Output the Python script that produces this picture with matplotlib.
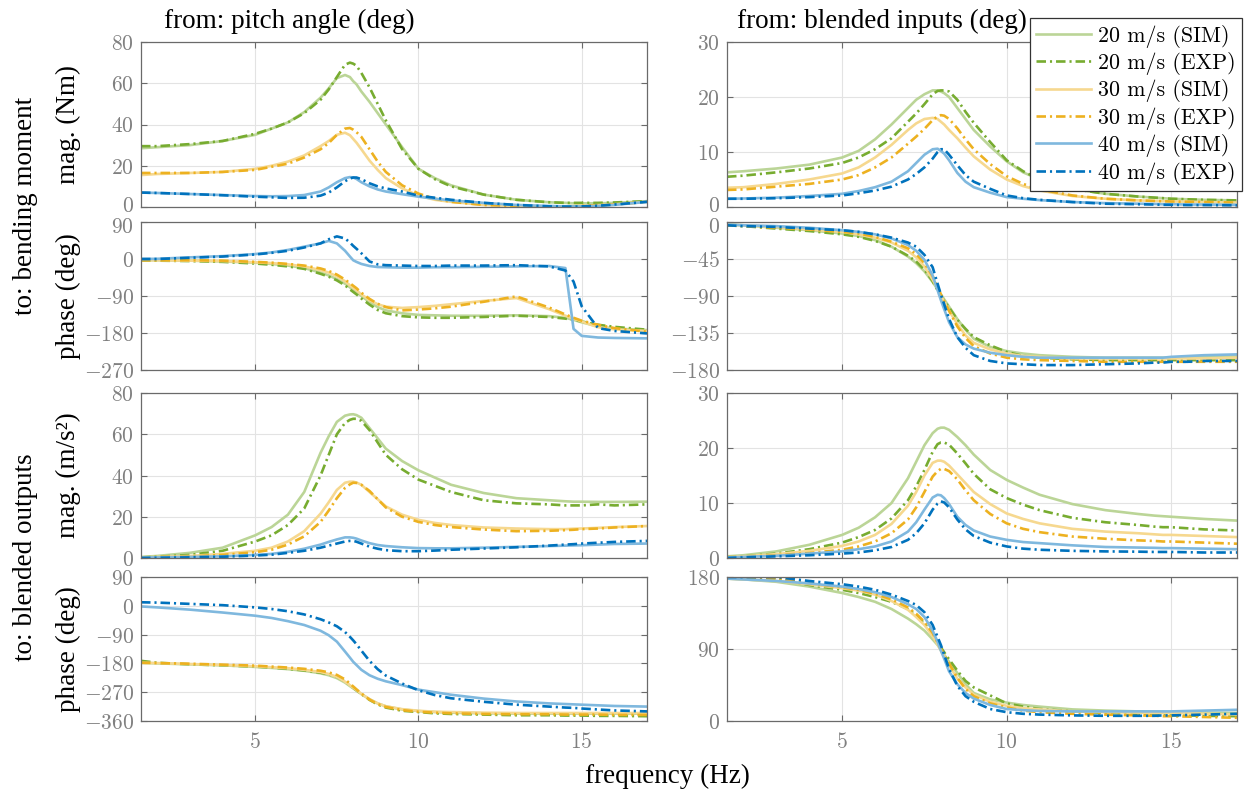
import matplotlib
matplotlib.use('Agg')
import matplotlib.pyplot as plt
from matplotlib.font_manager import FontProperties
from matplotlib.transforms import ScaledTranslation

plt.rcParams['mathtext.fontset'] = 'cm'

# ---------------- data ----------------
freq = [1.5, 2, 3, 4, 5, 5.5, 6, 6.5, 7, 7.25, 7.5, 7.75, 7.9, 8, 8.1, 8.25, 8.5, 8.75, 9, 9.5,
        10, 10.5, 11, 12, 13, 14, 14.5, 14.75, 15, 15.5, 16, 17]

series_labels = ['20 m/s (SIM)', '20 m/s (EXP)', '30 m/s (SIM)', '30 m/s (EXP)',
                 '40 m/s (SIM)', '40 m/s (EXP)']
col_titles = ['from: pitch angle (deg)', 'from: blended inputs (deg)']
row_titles = ['to: bending moment', 'to: blended outputs']
sub_labels = ['mag. (Nm)', 'phase (deg)', 'mag. (m/s²)', 'phase (deg)']
x_ticks = [5, 10, 15]

# pitch angle -> bending moment, magnitude
pb_mag_20_sim = [28.5, 29, 30, 32, 35, 38, 41, 46, 53, 57.5, 62.5, 64, 63, 61, 59.5, 56, 51, 45.5, 40, 29, 18.5, 14, 10.5, 6, 3.5, 2.3, 2, 1.8, 1.8, 1.8, 2, 2.8]
pb_mag_20_exp = [29.5, 29.5, 30.5, 32, 35.5, 38, 41, 45.5, 52, 57, 63, 69, 70, 69.5, 68.5, 65, 58, 50, 42, 28, 18.5, 13.5, 10, 6, 3.5, 2.3, 2, 2, 2, 2, 2.2, 2.8]
pb_mag_30_sim = [15.5, 16, 16.5, 17, 18.5, 20, 22, 25, 29.5, 32, 35, 36, 34.8, 33, 31.2, 28, 22.5, 18, 14, 9, 5.5, 3.5, 2.5, 1, 0.5, 0.3, 0.3, 0.4, 0.6, 0.9, 1.3, 2.5]
pb_mag_30_exp = [16.5, 16.5, 16.5, 17, 18, 19.5, 21, 24, 28, 31, 35, 38, 38.3, 37.5, 36.3, 34, 28, 22, 17, 10.5, 6.5, 4, 2.5, 1, 0.5, 0.3, 0.3, 0.3, 0.5, 0.8, 1.2, 2.5]
pb_mag_40_sim = [7, 6.8, 6.3, 5.8, 5.3, 5.2, 5.3, 5.8, 7.5, 9.5, 12, 14, 14.5, 14.3, 13.6, 12, 10, 8.5, 7.5, 6.2, 5, 4, 3.2, 2, 1, 0.5, 0.3, 0.3, 0.3, 0.5, 1, 2.5]
pb_mag_40_exp = [7, 6.8, 6.3, 5.7, 5, 4.7, 4.4, 4.5, 5.5, 7, 9.5, 12.5, 13.8, 14.3, 14.3, 13.5, 11.5, 10, 9, 7.5, 5.5, 4.5, 3.5, 2, 1, 0.3, 0.2, 0.2, 0.3, 0.6, 1.2, 2.5]

# pitch angle -> bending moment, phase
pb_ph_20_sim = [-3, -3, -4, -6, -9, -12, -16, -22, -33, -40, -49, -60, -69, -75, -81, -90, -105, -117, -125, -132, -136, -137, -138, -138, -137, -139, -143, -148, -154, -164, -169, -173]
pb_ph_20_exp = [-4, -4, -5, -7, -11, -14, -18, -24, -36, -43, -52, -64, -74, -80, -86, -96, -111, -124, -132, -139, -142, -143, -143, -141, -138, -141, -145, -148, -152, -160, -165, -172]
pb_ph_30_sim = [-3, -3, -4, -5, -8, -10, -13, -18, -27, -33, -42, -54, -64, -70, -76, -86, -100, -110, -116, -119, -117, -114, -110, -102, -95, -122, -138, -145, -152, -166, -171, -175]
pb_ph_30_exp = [-3, -3, -3, -4, -7, -9, -12, -16, -23, -29, -38, -50, -59, -65, -71, -82, -97, -109, -117, -125, -123, -120, -116, -104, -91, -118, -135, -143, -150, -160, -168, -177]
pb_ph_40_sim = [0, 0.5, 4, 7, 12, 16, 22, 30, 38, 44, 38, 20, 6, -3, -7, -12, -17, -19.5, -20, -21, -21, -20, -20, -19, -18, -17, -22, -170, -187, -191, -192, -193]
pb_ph_40_exp = [0, 0, 3, 6, 11, 15, 20, 28, 38, 48, 55, 50, 40, 32, 25, 14, -6, -13, -15, -16, -17, -17, -16, -16, -15, -18, -28, -55, -115, -168, -175, -181]

# pitch angle -> blended outputs, magnitude
po_mag_20_sim = [0.5, 1, 2.5, 5, 11, 15, 21, 32, 51, 59, 66, 69, 69.6, 69.7, 69.3, 68, 63, 58, 53, 47, 42.5, 39, 35.5, 31.5, 29, 28, 27.5, 27.3, 27.3, 27.2, 27.2, 27.3]
po_mag_20_exp = [0.3, 0.6, 1.5, 3.5, 8, 11, 16, 24, 40, 50, 60, 65.5, 67, 67.5, 67.5, 66.5, 62, 56, 50, 43, 38, 35, 32, 28, 26.5, 26, 25.5, 25.5, 25.5, 26, 25.5, 26]
po_mag_30_sim = [0.3, 0.5, 1, 2, 3.5, 5, 8, 13, 21.5, 27, 33, 36.5, 37, 37, 36.6, 35.5, 32, 28.5, 25, 21, 18.5, 17, 16, 14.8, 14.3, 14, 14, 14.2, 14.3, 14.6, 15, 15.5]
po_mag_30_exp = [0.2, 0.4, 0.8, 1.5, 2.8, 4, 6.5, 10.5, 17.5, 23, 29, 34, 35.7, 36.5, 36.4, 35.5, 32.5, 28.5, 24.5, 20, 17.5, 16, 15, 13.8, 13, 13.2, 13.5, 13.7, 14, 14.3, 14.8, 15.5]
po_mag_40_sim = [0.2, 0.3, 0.5, 0.8, 1.5, 2, 3, 4.5, 6.5, 7.8, 9, 10, 10, 9.8, 9.4, 8.5, 7.2, 6.3, 5.8, 5.2, 4.8, 4.7, 4.7, 5, 5.4, 5.8, 6, 6.1, 6.2, 6.5, 6.8, 7]
po_mag_40_exp = [0, 0.1, 0.3, 0.6, 1.2, 1.6, 2.5, 3.5, 5, 6, 7, 8, 8.3, 8.3, 7.9, 7, 5.5, 4.5, 3.8, 3.3, 3.3, 3.6, 4, 4.6, 5.2, 6, 6.5, 6.7, 7, 7.4, 7.8, 8.3]

# pitch angle -> blended outputs, phase
po_ph_20_sim = [-178, -180, -183, -186, -191, -194, -198, -203, -211, -217, -226, -240, -251, -258, -265, -276, -292, -305, -314, -324, -329, -332, -334, -336, -337, -337, -337, -337, -337, -337, -337, -337]
po_ph_20_exp = [-172, -178, -183, -186, -190, -193, -197, -202, -209, -214, -222, -236, -248, -256, -264, -276, -294, -308, -318, -328, -332, -336, -338, -340, -342, -342, -343, -343, -343, -344, -344, -345]
po_ph_30_sim = [-178, -179, -182, -185, -189, -192, -195, -200, -207, -213, -222, -237, -248, -256, -263, -275, -292, -305, -314, -323, -328, -331, -332, -334, -335, -335, -335, -335, -335, -335, -335, -335]
po_ph_30_exp = [-178, -179, -181, -184, -187, -190, -193, -197, -203, -208, -216, -230, -243, -252, -261, -274, -293, -307, -316, -326, -331, -334, -336, -338, -339, -339, -340, -340, -340, -340, -341, -341]
po_ph_40_sim = [-2, -5, -12, -21, -31, -38, -48, -60, -78, -92, -112, -143, -162, -175, -185, -200, -217, -228, -236, -248, -262, -270, -278, -290, -299, -305, -307, -308, -309, -311, -313, -315]
po_ph_40_exp = [11, 10, 6, 2, -5, -10, -17, -27, -42, -52, -64, -82, -97, -108, -120, -140, -172, -198, -218, -243, -264, -279, -289, -300, -309, -315, -318, -319, -321, -324, -327, -330]

# blended inputs -> bending moment, magnitude
bb_mag_20_sim = [6.3, 6.5, 7, 7.7, 9, 10.2, 12.3, 15, 18, 19.5, 20.5, 21.2, 21.2, 21, 20.7, 20, 18, 16, 14, 11, 8.3, 6.3, 5, 3.3, 2.4, 1.9, 1.7, 1.6, 1.5, 1.4, 1.3, 1.2]
bb_mag_20_exp = [5.5, 5.7, 6.3, 7, 8, 9, 10.5, 12.5, 15.5, 17, 18.7, 20.5, 21.1, 21.2, 21.2, 21, 19.5, 17.3, 15.3, 11.8, 8.5, 6.5, 5, 3.3, 2.4, 1.9, 1.7, 1.6, 1.5, 1.4, 1.3, 1.2]
bb_mag_30_sim = [3.5, 3.6, 4.2, 5, 6.1, 7.2, 9, 11.3, 14, 15.2, 16, 16.2, 16, 15.5, 15, 14, 12.5, 10.8, 9.2, 6.8, 5, 3.8, 3, 2, 1.5, 1.2, 1.1, 1.05, 1, 0.95, 0.9, 0.8]
bb_mag_30_exp = [3.1, 3.2, 3.7, 4.2, 5, 5.8, 7.2, 9, 11.5, 12.8, 14.2, 15.8, 16.5, 16.7, 16.6, 16, 14.3, 12.3, 10.5, 7.8, 5.6, 4.2, 3.2, 2.1, 1.5, 1.2, 1.1, 1.05, 1, 0.95, 0.9, 0.8]
bb_mag_40_sim = [1.5, 1.55, 1.7, 2, 2.4, 2.9, 3.6, 4.6, 6.5, 8, 9.5, 10.5, 10.6, 10.2, 9.7, 8.5, 6.2, 4.6, 3.6, 2.6, 1.8, 1.5, 1.25, 0.9, 0.7, 0.6, 0.55, 0.5, 0.5, 0.45, 0.45, 0.4]
bb_mag_40_exp = [1.5, 1.5, 1.6, 1.8, 2.1, 2.5, 3, 3.7, 5, 6, 7.2, 8.8, 10, 10.5, 10.5, 9.5, 7.6, 5.8, 4.6, 3.3, 2.1, 1.6, 1.3, 0.9, 0.6, 0.5, 0.45, 0.4, 0.4, 0.35, 0.35, 0.3]

# blended inputs -> bending moment, phase
bb_ph_20_sim = [-3, -4, -7, -10, -14, -17, -22, -30, -42, -50, -60, -73, -82, -88, -94, -103, -118, -131, -142, -152, -157, -160, -162, -164, -165, -165, -165, -165, -165, -165, -164, -163]
bb_ph_20_exp = [-4, -5, -8, -11, -15, -18, -23, -30, -41, -48, -58, -72, -83, -90, -96, -104, -119, -130, -140, -150, -158, -163, -165, -167, -168, -168, -168, -168, -168, -168, -168, -168]
bb_ph_30_sim = [-3, -4, -6, -9, -12, -15, -19, -25, -35, -43, -54, -70, -81, -89, -97, -108, -124, -138, -147, -155, -160, -163, -164, -166, -166, -166, -166, -166, -166, -166, -166, -165]
bb_ph_30_exp = [-4, -5, -7, -9, -12, -14, -18, -24, -32, -39, -50, -66, -79, -88, -96, -108, -127, -141, -151, -160, -165, -167, -168, -169, -170, -170, -170, -170, -170, -170, -170, -170]
bb_ph_40_sim = [-3, -4, -5, -7, -10, -12, -15, -20, -28, -35, -46, -65, -83, -95, -106, -122, -140, -149, -154, -159, -162, -164, -165, -165, -165, -165, -165, -165, -164, -163, -162, -161]
bb_ph_40_exp = [-4, -5, -6, -8, -10, -12, -15, -19, -25, -30, -40, -55, -75, -88, -100, -118, -140, -153, -162, -169, -172, -173, -174, -174, -173, -172, -171, -171, -170, -170, -169, -169]

# blended inputs -> blended outputs, magnitude
bo_mag_20_sim = [0.3, 0.5, 1.2, 2.4, 4.2, 5.5, 7.4, 10, 14.5, 17.5, 20.5, 22.7, 23.5, 23.7, 23.7, 23.3, 22, 20.5, 18.8, 16, 14.2, 12.8, 11.5, 9.8, 8.7, 8, 7.7, 7.6, 7.5, 7.3, 7.1, 6.8]
bo_mag_20_exp = [0.2, 0.3, 0.8, 1.6, 2.8, 3.8, 5.1, 7.2, 10.5, 13, 16, 19.3, 20.7, 21, 21, 20.6, 19, 17.2, 15.3, 12.5, 10.9, 9.7, 8.7, 7.3, 6.5, 6, 5.7, 5.6, 5.6, 5.4, 5.2, 5.0]
bo_mag_30_sim = [0.2, 0.3, 0.7, 1.3, 2.2, 3, 4.2, 6.2, 9.5, 12, 15, 17.3, 17.7, 17.7, 17.5, 16.8, 15.2, 13.6, 12, 9.8, 8.1, 7.1, 6.3, 5.3, 4.8, 4.5, 4.3, 4.2, 4.2, 4.1, 4.0, 3.8]
bo_mag_30_exp = [0.1, 0.2, 0.5, 0.9, 1.5, 2.1, 3, 4.5, 7, 9.2, 12, 14.8, 15.8, 16.2, 16.2, 15.8, 14.3, 12.3, 10.5, 8, 6.3, 5.3, 4.7, 3.9, 3.5, 3.2, 3.1, 3.0, 3.0, 2.9, 2.8, 2.6]
bo_mag_40_sim = [0.1, 0.2, 0.4, 0.8, 1.2, 1.6, 2.1, 3, 4.8, 6.5, 8.8, 11, 11.5, 11.4, 10.9, 9.8, 7.5, 6, 5, 3.9, 3.3, 2.9, 2.7, 2.3, 2.0, 1.9, 1.85, 1.8, 1.8, 1.75, 1.7, 1.6]
bo_mag_40_exp = [0.0, 0.1, 0.3, 0.5, 0.8, 1.0, 1.4, 2, 3.3, 4.5, 6.3, 8.8, 9.9, 10.3, 10.1, 9.2, 7, 5.2, 4.0, 2.8, 2.1, 1.7, 1.5, 1.3, 1.2, 1.15, 1.1, 1.1, 1.1, 1.05, 1.0, 1.0]

# blended inputs -> blended outputs, phase
bo_ph_20_sim = [178, 177, 174, 168, 160, 155, 149, 140, 128, 121, 113, 102, 95, 89, 83, 74, 60, 46, 35, 27, 23, 20, 18, 14.5, 13, 12, 11.5, 11.3, 11, 10.8, 10.5, 10]
bo_ph_20_exp = [180, 180, 178, 170, 164, 160, 155, 149, 140, 132, 122, 108, 99, 92, 86, 77, 63, 50, 42, 32, 22, 18, 15, 12, 10, 9, 8, 7.5, 7, 7, 6.5, 6]
bo_ph_30_sim = [178, 177, 175, 171, 166, 163, 158, 150, 139, 130, 120, 106, 96, 88, 81, 70, 53, 42, 33, 24, 19, 16, 14.5, 12, 11, 10.5, 10, 10, 10, 9.5, 9, 8]
bo_ph_30_exp = [180, 180, 178, 172, 167, 164, 159, 152, 142, 134, 124, 110, 98, 90, 83, 72, 54, 40, 31, 22, 17, 13, 11, 9, 8, 7, 6.5, 6, 6, 5.5, 5, 4]
bo_ph_40_sim = [178, 177, 175, 172, 168, 165, 161, 155, 146, 140, 130, 113, 99, 88, 78, 62, 46, 35, 28, 20, 15, 13.5, 12.5, 12, 12, 12, 12, 12, 12, 12.5, 13, 14]
bo_ph_40_exp = [180, 180, 180, 175, 171, 168, 164, 158, 150, 145, 136, 120, 105, 95, 83, 65, 44, 31, 24, 15, 11, 9, 8, 7, 6.5, 6.5, 6.5, 7, 7, 7.5, 8, 9]

# y-axis tick sets per panel row (left column, right column)
yticks_left = [[0, 20, 40, 60, 80], [-270, -180, -90, 0, 90], [0, 20, 40, 60, 80],
               [-360, -270, -180, -90, 0, 90]]
yticks_right = [[0, 10, 20, 30], [-180, -135, -90, -45, 0], [0, 10, 20, 30], [0, 90, 180]]

# ---------------- styling ----------------
colors = ['#BBD597', '#77AC30', '#F6D88F', '#EDB120', '#7FB8DE', '#0072BD']
W, H = 1247, 796
fig = plt.figure(figsize=(W / 100, H / 100), dpi=100)

col_x = [(141, 647), (727, 1237)]
row_y = [(42, 207), (222, 370), (393, 558), (577, 721)]

panels_left = [
    [pb_mag_20_sim, pb_mag_20_exp, pb_mag_30_sim, pb_mag_30_exp, pb_mag_40_sim, pb_mag_40_exp],
    [pb_ph_20_sim, pb_ph_20_exp, pb_ph_30_sim, pb_ph_30_exp, pb_ph_40_sim, pb_ph_40_exp],
    [po_mag_20_sim, po_mag_20_exp, po_mag_30_sim, po_mag_30_exp, po_mag_40_sim, po_mag_40_exp],
    [po_ph_20_sim, po_ph_20_exp, po_ph_30_sim, po_ph_30_exp, po_ph_40_sim, po_ph_40_exp],
]
panels_right = [
    [bb_mag_20_sim, bb_mag_20_exp, bb_mag_30_sim, bb_mag_30_exp, bb_mag_40_sim, bb_mag_40_exp],
    [bb_ph_20_sim, bb_ph_20_exp, bb_ph_30_sim, bb_ph_30_exp, bb_ph_40_sim, bb_ph_40_exp],
    [bo_mag_20_sim, bo_mag_20_exp, bo_mag_30_sim, bo_mag_30_exp, bo_mag_40_sim, bo_mag_40_exp],
    [bo_ph_20_sim, bo_ph_20_exp, bo_ph_30_sim, bo_ph_30_exp, bo_ph_40_sim, bo_ph_40_exp],
]

tick_font = 15.5
label_font = FontProperties(family='Liberation Serif', size=19.5)
spine_col = '#6a6a6a'
tick_col = '#808080'

handles = []
for ci, (panels, yts) in enumerate([(panels_left, yticks_left), (panels_right, yticks_right)]):
    x0, x1 = col_x[ci]
    for ri in range(4):
        y0, y1 = row_y[ri]
        ax = fig.add_axes([x0 / W, 1 - y1 / H, (x1 - x0) / W, (y1 - y0) / H])
        for si, ys in enumerate(panels[ri]):
            if si % 2 == 0:
                ln, = ax.plot(freq, ys, color=colors[si], lw=1.9, solid_joinstyle='round')
            else:
                ln, = ax.plot(freq, ys, color=colors[si], lw=1.9,
                              linestyle=(0, (3.6, 1.5, 0.8, 1.5)))
            if ci == 0 and ri == 0:
                handles.append(ln)
        ax.set_xlim(1.5, 17)
        yt = yts[ri]
        ax.set_ylim(yt[0], yt[-1])
        ax.set_yticks(yt)
        ax.set_yticklabels(['$%d$' % v for v in yt], fontsize=tick_font, color=tick_col)
        ax.set_xticks(x_ticks)
        if ri == 3:
            ax.set_xticklabels(['$%d$' % v for v in x_ticks], fontsize=tick_font, color=tick_col)
        else:
            ax.set_xticklabels([])
        ax.grid(True, color='#e3e3e3', lw=0.8)
        ax.set_axisbelow(True)
        ax.tick_params(direction='in', top=True, right=True, length=4, width=0.8,
                       color=spine_col, pad=5)
        ax.tick_params(axis='x', pad=8)
        for sp in ax.spines.values():
            sp.set_color(spine_col)
            sp.set_linewidth(0.9)
        # nudge the labels at the crowded junction between the two top panels
        labs = ax.get_yticklabels()
        if ri == 0:
            labs[0].set_transform(labs[0].get_transform() +
                                  ScaledTranslation(0, 3 / 100, fig.dpi_scale_trans))
        if ri == 1:
            labs[-1].set_transform(labs[-1].get_transform() +
                                   ScaledTranslation(0, -3 / 100, fig.dpi_scale_trans))

# column titles
fig.text(164 / W, 1 - 21 / H, col_titles[0], fontproperties=label_font, ha='left', va='center')
fig.text(737 / W, 1 - 21 / H, col_titles[1], fontproperties=label_font, ha='left', va='center')

# row titles
fig.text(26 / W, 1 - (42 + 370) / 2 / H, row_titles[0], fontproperties=label_font,
         rotation=90, ha='center', va='center')
fig.text(26 / W, 1 - (393 + 721) / 2 / H, row_titles[1], fontproperties=label_font,
         rotation=90, ha='center', va='center')
for ri in range(4):
    y0, y1 = row_y[ri]
    fig.text(68 / W, 1 - (y0 + y1) / 2 / H, sub_labels[ri], fontproperties=label_font,
             rotation=90, ha='center', va='center')

fig.text(667 / W, 1 - 776 / H, 'frequency (Hz)', fontproperties=label_font,
         ha='center', va='center')

leg = fig.legend(handles, series_labels, loc='upper right',
                 bbox_to_anchor=(1242 / W, 1 - 18 / H), bbox_transform=fig.transFigure,
                 prop=FontProperties(family='cmr10', size=15.8), frameon=True,
                 fancybox=False, framealpha=1, edgecolor='#333333', handlelength=2.5,
                 handletextpad=0.3, labelspacing=0.2, borderpad=0.3, borderaxespad=0)
leg.get_frame().set_linewidth(0.9)

fig.savefig('out.png', dpi=100)
